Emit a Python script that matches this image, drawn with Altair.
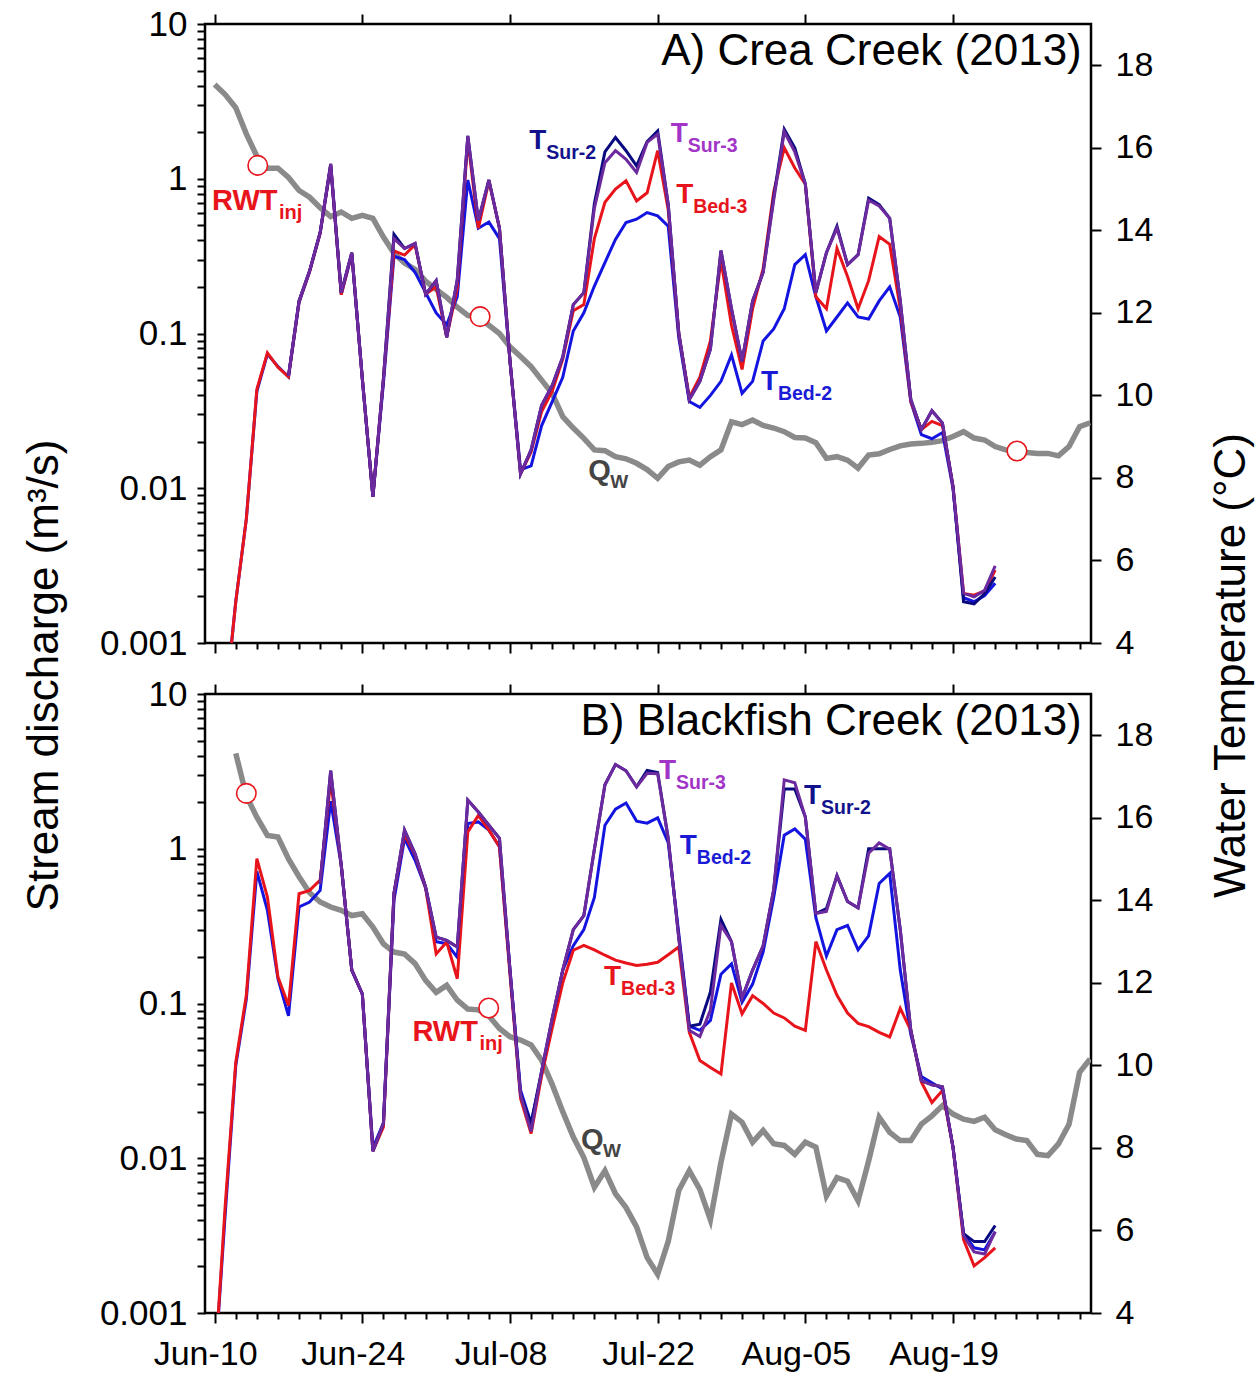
import altair as alt
import pandas as pd

FONT = "Liberation Sans"

# ---------------- A) Crea Creek ----------------
# daily stream discharge (m3/s), starting Jun-10
A_QW_START = "2013-06-10"
A_QW = [4.07, 3.5, 2.88, 1.95, 1.4, 1.17, 1.17, 1.02, 0.84, 0.76,
        0.65, 0.57, 0.61, 0.555, 0.58, 0.555, 0.42, 0.33, 0.285, 0.26,
        0.218, 0.193, 0.171, 0.148, 0.131, 0.127, 0.113, 0.1, 0.082, 0.071,
        0.061, 0.05, 0.041, 0.029, 0.0245, 0.021, 0.0177, 0.0175, 0.016, 0.0155,
        0.0145, 0.0132, 0.0116, 0.0138, 0.0148, 0.0152, 0.0141, 0.016, 0.0177, 0.0269,
        0.0258, 0.0276, 0.0255, 0.0245, 0.0232, 0.0213, 0.0211, 0.0197, 0.0156, 0.016,
        0.0152, 0.0135, 0.0164, 0.0167, 0.0178, 0.0188, 0.0193, 0.0195, 0.0198, 0.0203,
        0.0216, 0.0232, 0.0211, 0.0205, 0.0186, 0.0177, 0.0172, 0.0170, 0.0168, 0.0168,
        0.0162, 0.0186, 0.025, 0.0265]

# daily water temperature (deg C), starting Jun-10 (None = logger not yet deployed)
A_T_START = "2013-06-10"
A_TBED2 = [None, 2.5, 5.0, 7.0, 10.1, 11.0, 10.7, 10.45, 12.25, 13.0,
           13.93, 15.55, 12.45, 13.42, 10.4, 7.55, 10.3, 13.37, 13.29, 12.98,
           12.49, 12.0, 11.71, 12.39, 15.22, 14.05, 14.2, 13.8, 10.83, 8.2,
           8.29, 9.27, 9.85, 10.44, 11.56, 12.0, 12.65, 13.22, 13.78, 14.19,
           14.27, 14.43, 14.35, 14.1, 11.4, 9.85, 9.71, 10.0, 10.34, 10.98,
           10.05, 10.34, 11.32, 11.61, 12.1, 13.17, 13.41, 12.39, 11.56, 11.9,
           12.24, 11.9, 11.85, 12.29, 12.63, 11.9, 9.85, 9.05, 8.95, 9.1,
           7.75, 5.1, 5.0, 5.15, 5.45]
A_TBED3 = [None, 2.5, 5.0, 7.0, 10.15, 11.03, 10.68, 10.45, 12.27, 13.0,
           13.93, 15.58, 12.44, 13.44, 10.4, 7.55, 10.4, 13.5, 13.4, 13.65,
           12.45, 12.63, 11.41, 12.6, 16.2, 14.05, 15.2, 14.05, 10.83, 8.1,
           8.63, 9.61, 10.1, 10.88, 12.05, 12.2, 13.8, 14.68, 15.0, 15.2,
           14.71, 14.91, 15.93, 14.5, 11.5, 9.95, 10.44, 11.32, 13.27, 11.7,
           10.63, 12.1, 13.07, 14.93, 16.0, 15.51, 15.12, 12.39, 12.1, 13.56,
           12.88, 12.1, 12.78, 13.85, 13.66, 12.1, 9.85, 9.17, 9.37, 9.27,
           7.8, 5.2, 5.16, 5.26, 5.77]
A_TSUR2 = [None, None, None, None, None, None, None, 10.47, 12.29, 13.02,
           13.95, 15.61, 12.49, 13.46, 10.4, 7.55, 10.4, 13.9, 13.56, 13.68,
           12.45, 12.78, 11.41, 12.8, 16.29, 14.24, 15.22, 14.05, 10.83, 8.1,
           8.68, 9.76, 10.24, 10.93, 12.2, 12.49, 14.65, 15.9, 16.25, 15.93,
           15.56, 16.15, 16.41, 14.63, 11.51, 9.9, 10.34, 11.12, 13.51, 12.1,
           10.83, 12.29, 12.98, 14.8, 16.45, 16.0, 15.12, 12.49, 13.46, 14.1,
           13.17, 13.41, 14.78, 14.62, 14.29, 12.29, 9.9, 9.17, 9.63, 9.33,
           7.79, 5.0, 4.95, 5.2, 5.6]
A_TSUR3 = [None, None, None, None, None, None, None, 10.47, 12.29, 13.02,
           13.95, 15.61, 12.49, 13.46, 10.4, 7.55, 10.4, 13.8, 13.56, 13.68,
           12.45, 12.78, 11.41, 12.8, 16.29, 14.24, 15.22, 14.05, 10.83, 8.1,
           8.68, 9.76, 10.24, 10.93, 12.2, 12.49, 14.54, 15.64, 15.93, 15.72,
           15.4, 16.13, 16.33, 14.63, 11.51, 9.9, 10.34, 11.12, 13.51, 12.1,
           10.83, 12.29, 12.98, 14.73, 16.39, 15.9, 15.12, 12.49, 13.46, 14.05,
           13.17, 13.41, 14.73, 14.59, 14.29, 12.29, 9.9, 9.17, 9.63, 9.33,
           7.79, 5.21, 5.12, 5.28, 5.87]

# tracer injections (on the discharge curve)
A_RWT_DATES = ["2013-06-14T02:00", "2013-07-05T04:00", "2013-08-25T01:30"]
A_RWT_Q = [1.22, 0.1285, 0.0174]

# ---------------- B) Blackfish Creek ----------------
B_QW_START = "2013-06-12"
B_QW = [4.13, 2.2, 1.6, 1.22, 1.19, 0.86, 0.66, 0.52, 0.453, 0.42,
        0.40, 0.37, 0.38, 0.312, 0.243, 0.215, 0.209, 0.181, 0.141, 0.118,
        0.131, 0.105, 0.092, 0.091, 0.083, 0.069, 0.061, 0.058, 0.054, 0.043,
        0.030, 0.020, 0.0137, 0.0101, 0.0065, 0.0083, 0.0059, 0.0048, 0.0036, 0.00228,
        0.00178, 0.0029, 0.0062, 0.0083, 0.0063, 0.0040, 0.0094, 0.0193, 0.0171, 0.0127,
        0.0151, 0.0124, 0.0121, 0.0106, 0.0127, 0.0118, 0.0057, 0.0075, 0.0071, 0.0053,
        0.0096, 0.0184, 0.0147, 0.0130, 0.0130, 0.0166, 0.0188, 0.0219, 0.0193, 0.0179,
        0.0173, 0.0184, 0.0153, 0.0142, 0.0133, 0.0130, 0.0106, 0.0104, 0.0124, 0.0166,
        0.0359, 0.0438]

B_T_START = "2013-06-10"
B_TBED2 = [2.6, 6.4, 10.0, 11.6, 14.7, 13.76, 12.1, 11.2, 13.84, 13.96,
           14.24, 16.4, 14.85, 12.31, 11.73, 8.0, 8.6, 14.0, 15.5, 14.97,
           14.3, 13.0, 12.95, 12.62, 15.86, 15.9, 15.7, 15.3, 12.3, 9.4,
           8.6, 9.8, 11.0, 12.31, 12.9, 13.29, 14.07, 15.82, 16.21, 16.36,
           15.92, 15.87, 16.0, 15.4, 13.2, 10.95, 10.85, 11.09, 12.21, 12.46,
           11.53, 11.97, 12.75, 14.07, 15.58, 15.73, 15.48, 13.58, 12.65, 13.29,
           13.39, 12.8, 13.14, 14.41, 14.65, 12.31, 10.75, 9.73, 9.58, 9.43,
           8.02, 5.92, 5.58, 5.53, 5.97]
B_TBED3 = [2.6, 6.6, 10.07, 11.7, 15.01, 14.08, 12.14, 11.45, 14.16, 14.24,
           14.49, 16.9, 14.85, 12.31, 11.73, 7.92, 8.51, 14.17, 15.6, 15.1,
           14.3, 12.7, 12.99, 12.1, 15.66, 16.06, 15.7, 15.3, 12.2, 9.2,
           8.35, 9.75, 10.9, 12.0, 12.79, 12.91, 12.8, 12.67, 12.55, 12.48,
           12.42, 12.45, 12.5, 12.68, 12.87, 10.8, 10.12, 9.95, 9.79, 12.0,
           11.25, 11.69, 11.5, 11.27, 11.15, 10.95, 10.85, 13.0, 12.31, 11.7,
           11.27, 11.02, 10.94, 10.8, 10.69, 11.38, 10.85, 9.6, 9.1, 9.39,
           8.02, 5.78, 5.14, 5.34, 5.58]
B_TSUR2 = [None, None, None, None, None, None, None, None, None, None,
           14.4, 17.14, 14.85, 12.31, 11.73, 7.92, 8.6, 14.17, 15.7, 15.13,
           14.32, 13.11, 13.03, 12.87, 16.43, 16.14, 15.82, 15.5, 12.31, 9.29,
           8.6, 9.87, 11.14, 12.31, 13.29, 13.63, 15.24, 16.8, 17.29, 17.14,
           16.75, 17.15, 17.1, 15.5, 13.09, 10.95, 11.0, 11.78, 13.54, 13.0,
           11.63, 12.31, 12.9, 14.26, 16.7, 16.7, 16.02, 13.68, 13.8, 14.6,
           13.97, 13.82, 15.25, 15.25, 15.25, 13.29, 10.85, 9.63, 9.53, 9.48,
           8.02, 5.92, 5.73, 5.73, 6.12]
B_TSUR3 = [None, None, None, None, None, None, None, None, None, None,
           14.4, 17.14, 14.85, 12.31, 11.73, 7.92, 8.6, 14.17, 15.7, 15.13,
           14.32, 13.11, 13.03, 12.87, 16.43, 16.14, 15.82, 15.5, 12.31, 9.29,
           8.4, 9.87, 11.14, 12.31, 13.29, 13.63, 15.24, 16.8, 17.29, 17.14,
           16.75, 17.08, 17.07, 15.5, 13.09, 10.85, 10.7, 11.34, 13.39, 13.0,
           11.63, 12.31, 12.9, 14.26, 16.92, 16.85, 16.02, 13.68, 13.73, 14.6,
           13.97, 13.82, 15.14, 15.39, 15.24, 13.29, 10.85, 9.63, 9.53, 9.48,
           8.02, 5.87, 5.48, 5.43, 5.97]

B_RWT_DATES = ["2013-06-13T00:00", "2013-07-05T23:30"]
B_RWT_Q = [2.28, 0.0935]

# ---------------- labels ----------------
SERIES_ORDER = ["Bed-2", "Bed-3", "Sur-2", "Sur-3"]
LINE_COLORS = {"Bed-2": "#1414e0", "Bed-3": "#e8141b", "Sur-2": "#0a0a80", "Sur-3": "#6c2a9e"}
LABEL_COLORS = {"Bed-2": "#1a1ad6", "Bed-3": "#e8141b", "Sur-2": "#12128c", "Sur-3": "#a235c8"}
RED = "#e8141b"
QW_COLOR = "#8a8a8a"
QW_LABEL_COLOR = "#444444"

A_TITLE = "A) Crea Creek (2013)"
B_TITLE = "B) Blackfish Creek (2013)"
TITLE_DATE = "2013-08-31T05:00"
TITLE_TEMP = 18.0

A_T_LABELS = ["Sur-2", "Sur-3", "Bed-3", "Bed-2"]
A_T_LABEL_DATES = ["2013-07-09T20:00", "2013-07-23T06:00", "2013-07-23T18:00", "2013-07-31T19:00"]
A_T_LABEL_TEMPS = [15.97, 16.14, 14.66, 10.12]
B_T_LABELS = ["Sur-3", "Sur-2", "Bed-2", "Bed-3"]
B_T_LABEL_DATES = ["2013-07-22T03:00", "2013-08-04T21:00", "2013-07-24T02:30", "2013-07-16T22:00"]
B_T_LABEL_TEMPS = [16.93, 16.33, 15.12, 11.94]

A_RWT_LABEL = ("2013-06-09T18:00", 0.628)
B_RWT_LABEL = ("2013-06-28T18:00", 0.057)
A_QW_LABEL = ("2013-07-15T10:00", 0.0113)
B_QW_LABEL = ("2013-07-14T17:30", 0.0115)

# axis ticks
MAJOR_TICKS = ["2013-06-10", "2013-06-24", "2013-07-08", "2013-07-22", "2013-08-05", "2013-08-19"]
Q_MAJOR = [0.001, 0.01, 0.1, 1, 10]
T_TICKS = [4, 6, 8, 10, 12, 14, 16, 18]


def dt(ts):
    t = pd.Timestamp(ts)
    return alt.DateTime(year=int(t.year), month=int(t.month), date=int(t.day))


MINOR_TICK_VALUES = [dt(t) for t in pd.date_range(MAJOR_TICKS[0], "2013-08-31", freq="2D")]
MAJOR_TICK_VALUES = [dt(t) for t in MAJOR_TICKS]
Q_TICK_VALUES = [round(k * 10.0 ** e, 6) for e in range(-3, 1) for k in range(1, 10)] + [10]

MAJOR_TEST = "(datum.value - datetime(2013, 5, 10)) % 1209600000 == 0"

X_SCALE = alt.Scale(domain=[alt.DateTime(year=2013, month=6, date=9, hours=2),
                            alt.DateTime(year=2013, month=9, date=1, hours=2)], nice=False)
Q_SCALE = alt.Scale(type="log", domain=[0.001, 10], nice=False)
T_SCALE = alt.Scale(domain=[4, 19], nice=False, zero=False)

TICK_STYLE = dict(tickColor="black", tickWidth=2, domain=False, grid=False,
                  labelFont=FONT, labelColor="black")


def bottom_axis(show_labels):
    return alt.Axis(orient="bottom", values=MINOR_TICK_VALUES, format="%b-%d",
                    labelExpr=f"{MAJOR_TEST} ? datum.label : ''",
                    labels=show_labels, labelOverlap=False, labelFlush=False,
                    labelOffset=-9.5, labelPadding=14, labelFontSize=34,
                    tickSize={"condition": {"test": MAJOR_TEST, "value": 10}, "value": 6},
                    title=None, **TICK_STYLE)


TOP_AXIS = alt.Axis(orient="top", values=MAJOR_TICK_VALUES, labels=False, tickSize=10,
                    title=None, **TICK_STYLE)


def q_axis(with_title):
    extra = dict(title=None)
    if with_title:
        extra = dict(title="Stream discharge (m³/s)", titleFont=FONT, titleFontSize=44,
                     titleFontWeight="normal", titleColor="black", titleAngle=270,
                     titleX=-161, titleY=651, titleAlign="center", titleBaseline="middle")
    return alt.Axis(orient="left", values=Q_TICK_VALUES, format="~g",
                    labelExpr="indexof([0.001, 0.01, 0.1, 1, 10], datum.value) >= 0 ? datum.label : ''",
                    labelOverlap=False, labelPadding=10, labelFontSize=35, tickSize=8,
                    **TICK_STYLE, **extra)


def t_axis(with_title):
    extra = dict(title=None)
    if with_title:
        extra = dict(title="Water Temperature (°C)", titleFont=FONT, titleFontSize=44,
                     titleFontWeight="normal", titleColor="black", titleAngle=270,
                     titleX=140, titleY=641, titleAlign="center", titleBaseline="middle")
    return alt.Axis(orient="right", values=T_TICKS, labelOverlap=False, labelPadding=14,
                    labelFontSize=34, tickSize=10, **TICK_STYLE, **extra)


def daily(start, values):
    return pd.DataFrame({"date": pd.date_range(start, periods=len(values), freq="D"),
                         "value": values})


def panel(qw_start, qw, t_start, temps, rwt_dates, rwt_q, rwt_label, qw_label,
          t_labels, t_label_dates, t_label_temps, title, first, last):
    xb = bottom_axis(last)
    qa = q_axis(first)
    ta = t_axis(first)

    def xq():
        return alt.X("date:T", scale=X_SCALE, axis=xb)

    def yq():
        return alt.Y("value:Q", scale=Q_SCALE, axis=qa)

    def xt():
        return alt.X("date:T", scale=X_SCALE, axis=TOP_AXIS)

    def yt():
        return alt.Y("value:Q", scale=T_SCALE, axis=ta)

    # discharge side (log scale, left axis)
    q_line = alt.Chart(daily(qw_start, qw)).mark_line(
        color=QW_COLOR, strokeWidth=5.5, clip=True).encode(x=xq(), y=yq())
    circles = alt.Chart(pd.DataFrame({"date": pd.to_datetime(rwt_dates), "value": rwt_q})).mark_point(
        shape="circle", size=380, filled=True, fill="white", stroke=RED, strokeWidth=1.6,
        opacity=1).encode(x=xq(), y=yq())
    rwt_df = pd.DataFrame({"date": [pd.Timestamp(rwt_label[0])], "value": [rwt_label[1]]})
    rwt_main = alt.Chart(rwt_df).mark_text(
        text="RWT", align="left", baseline="alphabetic", font=FONT, fontSize=29,
        fontWeight="bold", color=RED).encode(x=xq(), y=yq())
    rwt_sub = alt.Chart(rwt_df).mark_text(
        text="inj", align="left", baseline="alphabetic", font=FONT, fontSize=20,
        fontWeight="bold", color=RED, dx=67, dy=9).encode(x=xq(), y=yq())
    qw_df = pd.DataFrame({"date": [pd.Timestamp(qw_label[0])], "value": [qw_label[1]]})
    qw_main = alt.Chart(qw_df).mark_text(
        text="Q", align="left", baseline="alphabetic", font=FONT, fontSize=29,
        fontWeight="bold", color=QW_LABEL_COLOR).encode(x=xq(), y=yq())
    qw_sub = alt.Chart(qw_df).mark_text(
        text="W", align="left", baseline="alphabetic", font=FONT, fontSize=19,
        fontWeight="bold", color=QW_LABEL_COLOR, dx=22, dy=8).encode(x=xq(), y=yq())
    q_layer = alt.layer(q_line, circles, rwt_main, rwt_sub, qw_main, qw_sub)

    # temperature side (linear scale, right axis)
    t_lines = []
    for name in SERIES_ORDER:
        t_lines.append(alt.Chart(daily(t_start, temps[name])).mark_line(
            color=LINE_COLORS[name], strokeWidth=3, clip=True).encode(x=xt(), y=yt()))
    lab_df = pd.DataFrame({"date": pd.to_datetime(t_label_dates), "value": t_label_temps,
                           "sub": t_labels, "color": [LABEL_COLORS[s] for s in t_labels]})
    t_main = alt.Chart(lab_df).mark_text(
        text="T", align="left", baseline="alphabetic", font=FONT, fontSize=28,
        fontWeight="bold").encode(x=xt(), y=yt(), color=alt.Color("color:N", scale=None))
    t_sub = alt.Chart(lab_df).mark_text(
        align="left", baseline="alphabetic", font=FONT, fontSize=19.5, fontWeight="bold",
        dx=17, dy=10).encode(x=xt(), y=yt(), text="sub:N", color=alt.Color("color:N", scale=None))
    ttl_df = pd.DataFrame({"date": [pd.Timestamp(TITLE_DATE)], "value": [TITLE_TEMP]})
    ttl = alt.Chart(ttl_df).mark_text(
        text=title, align="right", baseline="alphabetic", font=FONT, fontSize=44,
        color="black").encode(x=xt(), y=yt())
    t_layer = alt.layer(*t_lines, t_main, t_sub, ttl)

    return (alt.layer(q_layer, t_layer)
            .resolve_scale(y="independent")
            .resolve_axis(x="independent", y="independent")
            .properties(width=886, height=619))


panel_a = panel(A_QW_START, A_QW, A_T_START,
                {"Bed-2": A_TBED2, "Bed-3": A_TBED3, "Sur-2": A_TSUR2, "Sur-3": A_TSUR3},
                A_RWT_DATES, A_RWT_Q, A_RWT_LABEL, A_QW_LABEL,
                A_T_LABELS, A_T_LABEL_DATES, A_T_LABEL_TEMPS, A_TITLE, True, False)
panel_b = panel(B_QW_START, B_QW, B_T_START,
                {"Bed-2": B_TBED2, "Bed-3": B_TBED3, "Sur-2": B_TSUR2, "Sur-3": B_TSUR3},
                B_RWT_DATES, B_RWT_Q, B_RWT_LABEL, B_QW_LABEL,
                B_T_LABELS, B_T_LABEL_DATES, B_T_LABEL_TEMPS, B_TITLE, False, True)

chart = (alt.vconcat(panel_a, panel_b, spacing=51, bounds="flush")
         .properties(padding={"left": 20, "top": 5, "right": 5, "bottom": 5},
                     background="white")
         .configure(font=FONT)
         .configure_view(stroke="black", strokeWidth=2.5))

chart.save("out.html", embed_options={"renderer": "svg", "actions": False})
